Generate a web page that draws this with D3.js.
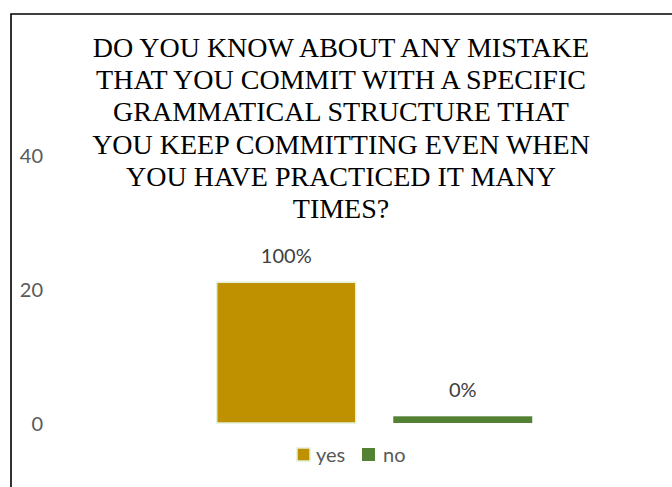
<!DOCTYPE html>
<html>
<head>
<meta charset="utf-8">
<script src="https://cdn.jsdelivr.net/npm/d3@7"></script>
<style>
  html, body { margin: 0; padding: 0; background: #ffffff; }
  svg { display: block; }
</style>
</head>
<body>
<svg id="chart" width="672" height="487"></svg>
<script>
// Survey answers: respondents per option, with the share shown above each bar
const categories = ["yes", "no"];
const counts = [21, 1];
const percentLabels = ["100%", "0%"];
const yTicks = [0, 20, 40];
const titleLines = [
  "DO YOU KNOW ABOUT ANY MISTAKE",
  "THAT YOU COMMIT WITH A SPECIFIC",
  "GRAMMATICAL STRUCTURE THAT",
  "YOU KEEP COMMITTING EVEN WHEN",
  "YOU HAVE PRACTICED IT MANY",
  "TIMES?"
];
const colors = ["#BF9000", "#548235"];

const svg = d3.select("#chart");
const W = 672, H = 487;

svg.append("rect").attr("width", W).attr("height", H).attr("fill", "#ffffff");

// chart frame (left and top edges visible in view)
svg.append("path")
  .attr("d", `M11,${H + 5} L11,14 L${W + 5},14`)
  .attr("fill", "none")
  .attr("stroke", "#000")
  .attr("stroke-width", 1.6);

// title
const title = svg.append("text")
  .attr("text-anchor", "middle")
  .attr("font-family", "'Liberation Serif', 'Times New Roman', serif")
  .attr("font-size", 28)
  .attr("fill", "#000");
titleLines.forEach((t, i) => {
  title.append("tspan").attr("x", 341).attr("y", 57 + i * 32.2).text(t);
});

// scales
const x = d3.scaleBand().domain(categories).range([198, 551])
  .paddingInner(0.2125).paddingOuter(0.10625);
const y = d3.scaleLinear().domain([0, 40]).range([423, 155]);

// value axis labels
const yAxis = d3.axisLeft(y).tickValues(yTicks).tickSize(0).tickPadding(0);
const yg = svg.append("g").attr("transform", "translate(43,0)").call(yAxis);
yg.select(".domain").remove();
yg.selectAll("text")
  .attr("font-family", "Lato, 'Open Sans', sans-serif")
  .attr("font-size", 20)
  .attr("fill", "#595959")
  .attr("dy", "0.35em");

const data = categories.map((c, i) => ({ c, v: counts[i], p: percentLabels[i], color: colors[i] }));

// bars
svg.append("g").selectAll("rect")
  .data(data).join("rect")
  .attr("x", d => x(d.c))
  .attr("y", d => y(d.v))
  .attr("width", x.bandwidth())
  .attr("height", d => y(0) - y(d.v))
  .attr("fill", d => d.color)
  .attr("stroke", d => d.c === "yes" ? "#E2F0D9" : "none")
  .attr("stroke-width", 1.5);

// data labels
svg.append("g").selectAll("text")
  .data(data).join("text")
  .attr("x", d => x(d.c) + x.bandwidth() / 2)
  .attr("y", d => y(d.v) - 19)
  .attr("text-anchor", "middle")
  .attr("font-family", "Lato, 'Open Sans', sans-serif")
  .attr("font-size", 20)
  .attr("fill", "#404040")
  .text(d => d.p);

// legend
const legendItems = [
  { c: "yes", sx: 297, tx: 316 },
  { c: "no", sx: 362, tx: 383 }
];
const lg = svg.append("g");
legendItems.forEach((it, i) => {
  lg.append("rect")
    .attr("x", it.sx).attr("y", 448).attr("width", 13).attr("height", 13)
    .attr("fill", colors[i])
    .attr("stroke", it.c === "yes" ? "#E2F0D9" : "none")
    .attr("stroke-width", 1.5);
  lg.append("text")
    .attr("x", it.tx).attr("y", 455).attr("dy", "0.35em")
    .attr("font-family", "Lato, 'Open Sans', sans-serif")
    .attr("font-size", 20)
    .attr("fill", "#595959")
    .text(it.c);
});
</script>
</body>
</html>
